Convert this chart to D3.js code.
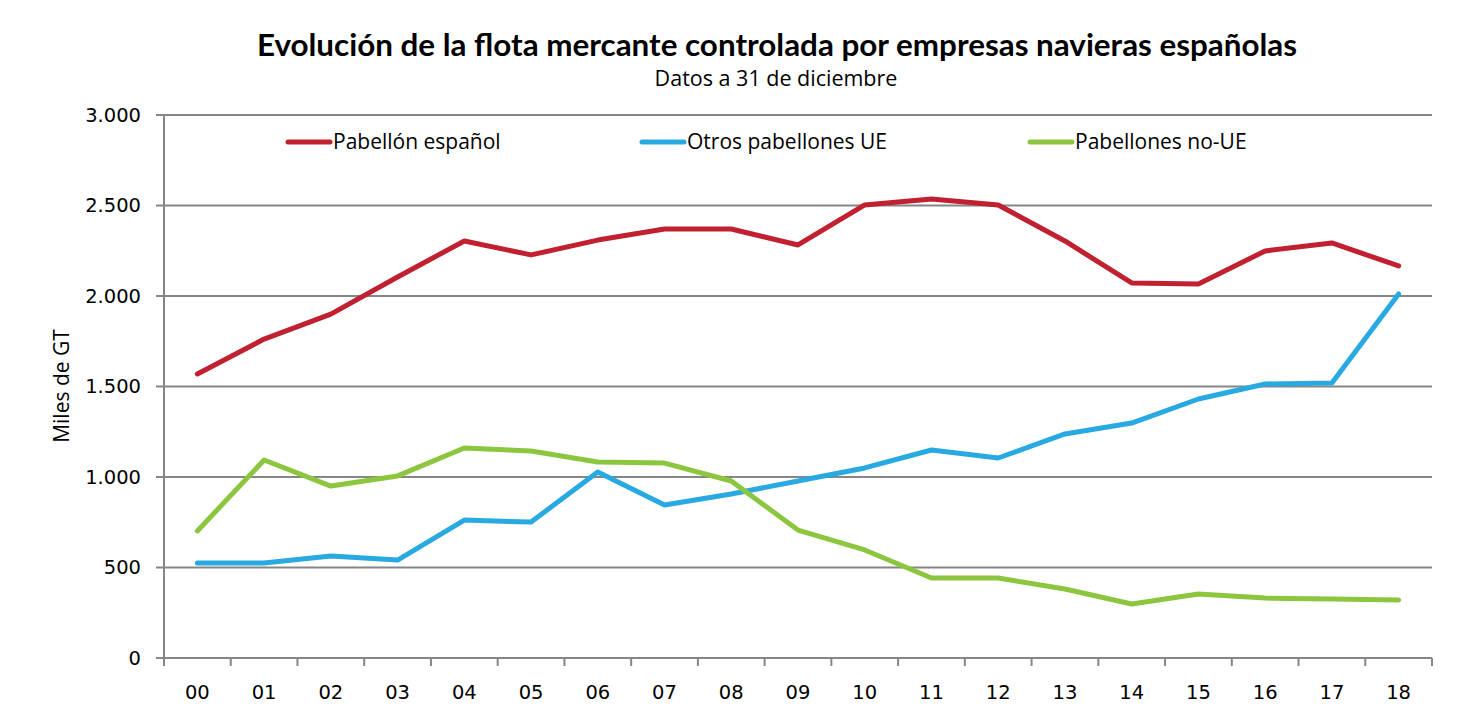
<!DOCTYPE html>
<html><head><meta charset="utf-8">
<script src="https://cdn.jsdelivr.net/npm/d3@7"></script>
<style>body{margin:0;background:#fff}</style>
</head><body>
<svg id="c" width="1466" height="708"></svg>
<script>
const years = ["00","01","02","03","04","05","06","07","08","09","10","11","12","13","14","15","16","17","18"];
const espanol = [1569,1762,1900,2105,2304,2227,2309,2370,2370,2282,2503,2536,2503,2304,2072,2066,2249,2293,2166];
const otrosUE = [525,525,564,541,762,751,1028,845,906,978,1050,1149,1105,1238,1298,1431,1514,1519,2011];
const noUE = [702,1094,950,1006,1160,1144,1083,1077,978,707,597,442,442,381,298,354,331,326,320];
const seriesNames = ["Pabellón español","Otros pabellones UE","Pabellones no-UE"];
const seriesColors = ["#C0202F","#29A9E1","#8CC63F"];
const yTicks = [0,500,1000,1500,2000,2500,3000];

const svg = d3.select("#c");
const L=164, R=1432, T=115, B=658;
const x = d3.scaleBand().domain(years).range([L,R]);
const y = d3.scaleLinear().domain([0,3000]).range([B,T]);
const fmt = d => d3.format(",")(d).replace(/,/g,".");

svg.append("g").selectAll("line").data(yTicks).join("line")
  .attr("x1",L-8).attr("x2",R).attr("y1",d=>y(d)).attr("y2",d=>y(d))
  .attr("stroke","#868686").attr("stroke-width",2);
svg.append("line").attr("x1",L).attr("x2",L).attr("y1",T).attr("y2",B)
  .attr("stroke","#868686").attr("stroke-width",2);
svg.append("g").selectAll("line").data(d3.range(years.length+1)).join("line")
  .attr("x1",i=>L+i*x.step()).attr("x2",i=>L+i*x.step()).attr("y1",B).attr("y2",B+8)
  .attr("stroke","#868686").attr("stroke-width",2);
svg.append("g").selectAll("text").data(yTicks).join("text")
  .attr("x",141).attr("y",d=>y(d)).attr("dy","0.35em").attr("text-anchor","end")
  .attr("font-family","DejaVu Sans").attr("font-size",19.5).attr("fill","#000").text(fmt);
svg.append("g").selectAll("text").data(years).join("text")
  .attr("x",d=>x(d)+x.bandwidth()/2).attr("y",692).attr("dy","0.35em").attr("text-anchor","middle")
  .attr("font-family","DejaVu Sans").attr("font-size",19.5).attr("fill","#000").text(d=>d);
svg.append("text").attr("transform","translate(69,386) rotate(-90)").attr("text-anchor","middle")
  .attr("font-family","Open Sans").attr("font-size",21).text("Miles de GT");
svg.append("text").attr("x",777).attr("y",56).attr("text-anchor","middle")
  .attr("font-family","Lato").attr("font-weight","bold").attr("font-size",31.4).text("Evolución de la flota mercante controlada por empresas navieras españolas");
svg.append("text").attr("x",776).attr("y",86).attr("text-anchor","middle")
  .attr("font-family","Open Sans").attr("font-size",21.5).text("Datos a 31 de diciembre");

const data = [espanol, otrosUE, noUE];
const line = d3.line().x((d,i)=>x(years[i])+x.bandwidth()/2).y(d=>y(d));
svg.append("g").selectAll("path").data(data).join("path")
  .attr("d",line).attr("fill","none").attr("stroke",(d,i)=>seriesColors[i])
  .attr("stroke-width",5).attr("stroke-linejoin","round").attr("stroke-linecap","round");

const legX = [288, 642, 1030];
const lg = svg.append("g").selectAll("g").data(seriesNames).join("g")
  .attr("transform",(d,i)=>`translate(${legX[i]},142)`);
lg.append("line").attr("x1",0).attr("x2",42).attr("stroke",(d,i)=>seriesColors[i])
  .attr("stroke-width",5).attr("stroke-linecap","round");
lg.append("text").attr("x",45).attr("dy","0.35em").attr("font-family","Open Sans")
  .attr("font-size",21).text(d=>d);
</script>
</body></html>
